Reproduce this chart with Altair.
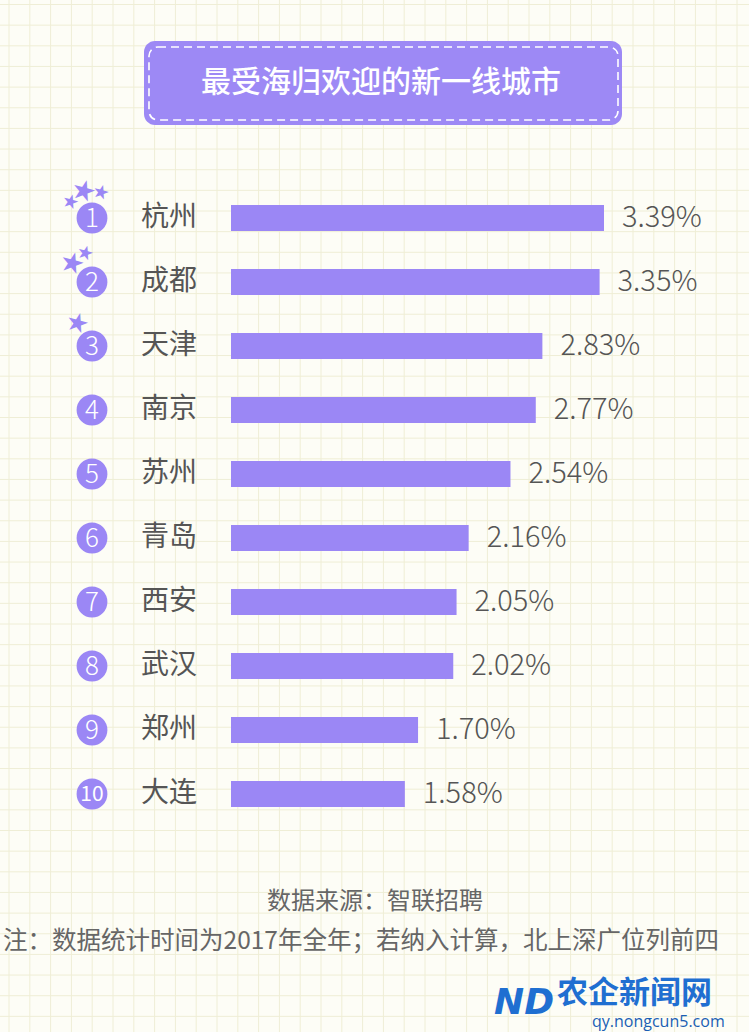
import altair as alt
import pandas as pd

# ---- data ----
ranks = [1, 2, 3, 4, 5, 6, 7, 8, 9, 10]
cities = ["杭州", "成都", "天津", "南京", "苏州", "青岛", "西安", "武汉", "郑州", "大连"]
values = [3.39, 3.35, 2.83, 2.77, 2.54, 2.16, 2.05, 2.02, 1.70, 1.58]
labels = ["3.39%", "3.35%", "2.83%", "2.77%", "2.54%", "2.16%", "2.05%", "2.02%", "1.70%", "1.58%"]

title_text = "最受海归欢迎的新一线城市"
source_text = "数据来源：智联招聘"
note_text = "注：数据统计时间为2017年全年；若纳入计算，北上深广位列前四"

W, H = 749, 1032
BAR = "#9b87f5"
TXT = "#555555"
FONT = "Noto Sans CJK SC"

df = pd.DataFrame({"rank": ranks, "city": cities, "value": values, "label": labels})
df["num"] = df["rank"].astype(str)

# ---- background grid (decoration) ----
grid_x = pd.DataFrame({"gx": [9 + 20.8 * i for i in range(37)]})
grid_y = pd.DataFrame({"gy": [4.5 + 20.65 * i for i in range(51)]})
GRID = "#efeed6"
vgrid = alt.Chart(grid_x).mark_rule(color=GRID, strokeWidth=1).encode(
    x=alt.X("gx:Q", scale=alt.Scale(domain=[0, W], range=[0, W], padding=0), axis=None),
    y=alt.value(0), y2=alt.value(H))
hgrid = alt.Chart(grid_y).mark_rule(color=GRID, strokeWidth=1).encode(
    y=alt.Y("gy:Q", scale=alt.Scale(domain=[0, H], range=[0, H], padding=0), axis=None),
    x=alt.value(0), x2=alt.value(W))
grid = alt.layer(vgrid, hgrid)

# ---- main chart ----
xs = alt.Scale(domain=[0, 3.39], range=[231, 604], nice=False, zero=True, padding=0)
ys = alt.Scale(domain=[1, 10], range=[218, 794], nice=False, zero=False, padding=0)
base = alt.Chart(df)
X = alt.X("value:Q", scale=xs, axis=None)
Y = alt.Y("rank:Q", scale=ys, axis=None)

bars = base.mark_bar(color=BAR, size=26, orient="horizontal").encode(
    x=X, x2=alt.datum(0), y=Y)
vals = base.mark_text(align="left", baseline="middle", dx=18, fontSize=29,
                      font=FONT, color=TXT, fontWeight=300).encode(
    x=X, y=Y, text="label:N")
circles = base.mark_circle(color=BAR, opacity=1, size=950).encode(
    x=alt.value(92), y=Y)
nums = base.transform_filter("datum.rank < 10").mark_text(
    color="white", fontSize=26, font=FONT, fontWeight=300, baseline="middle",
    align="center", dy=1).encode(
    x=alt.value(92), y=Y, text="num:N")
num10 = base.transform_filter("datum.rank == 10").mark_text(
    color="white", fontSize=21, font=FONT, baseline="middle", align="center", dy=1).encode(
    x=alt.value(92), y=Y, text="num:N")
names = base.mark_text(align="left", baseline="middle", fontSize=28, font=FONT,
                       color=TXT).encode(x=alt.value(141), y=Y, text="city:N")

# stars (decoration) beside the top three
star_specs = [(1, -25, -10, 19), (1, -15, -23, 28), (1, 2, -27, 19),
              (2, -24, -12, 28), (2, -14, -26, 19),
              (3, -20, -18, 26)]
stars = []
for r, sdx, sdy, fs in star_specs:
    stars.append(
        base.transform_filter(f"datum.rank == {r}").mark_text(
            text="★", color=BAR, fontSize=fs, font="DejaVu Sans",
            align="center", baseline="middle", dx=sdx, dy=sdy, angle=15).encode(
            x=alt.value(92), y=Y))

main = alt.layer(bars, vals, circles, nums, num10, names, *stars)

# ---- title box ----
one = pd.DataFrame({"k": [0]})
box = alt.Chart(one).mark_rect(color="#9d89f5", cornerRadius=11).encode(
    x=alt.value(144), x2=alt.value(622), y=alt.value(41), y2=alt.value(125))
dash = alt.Chart(one).mark_rect(fill=None, stroke="white", strokeWidth=1.6,
                                strokeDash=[8, 5], cornerRadius=9).encode(
    x=alt.value(149), x2=alt.value(618), y=alt.value(47), y2=alt.value(120))
title = alt.Chart(one).mark_text(text=title_text, color="white", fontSize=30,
                                 font=FONT, fontWeight=500, align="center",
                                 baseline="middle").encode(
    x=alt.value(381), y=alt.value(83))

# ---- footer ----
src = alt.Chart(one).mark_text(text=source_text, color="#666666", fontSize=24,
                               font=FONT, align="center", baseline="middle").encode(
    x=alt.value(375), y=alt.value(902))
note = alt.Chart(one).mark_text(text=note_text, color="#666666", fontSize=24.5,
                                font=FONT, align="center", baseline="middle").encode(
    x=alt.value(361), y=alt.value(942))

# ---- watermark ----
wm1 = alt.Chart(one).mark_text(text="农企新闻网", color="#1f6fd1", fontSize=31,
                               font=FONT, fontWeight="bold", align="left",
                               baseline="alphabetic").encode(
    x=alt.value(557), y=alt.value(1003))
wm2 = alt.Chart(one).mark_text(text="qy.nongcun5.com", color="#1a5fb4", fontSize=16,
                               font="Open Sans", align="left",
                               baseline="alphabetic").encode(
    x=alt.value(592), y=alt.value(1027))
wm3 = alt.Chart(one).mark_text(text="ND", color="#1f6fd1", fontSize=36,
                               font="DejaVu Sans", fontWeight="bold", fontStyle="italic",
                               align="left", baseline="middle").encode(
    x=alt.value(494), y=alt.value(1003))

deco = alt.layer(box, dash, title, src, note, wm3, wm1, wm2)

chart = alt.layer(grid, main, deco).resolve_scale(
    x="independent", y="independent"
).properties(
    width=W, height=H, autosize=alt.AutoSizeParams(type="none"), padding=0,
    background="#fdfdf6"
).configure_view(stroke=None)

chart.save("out.html", embed_options={"renderer": "svg", "actions": False})
